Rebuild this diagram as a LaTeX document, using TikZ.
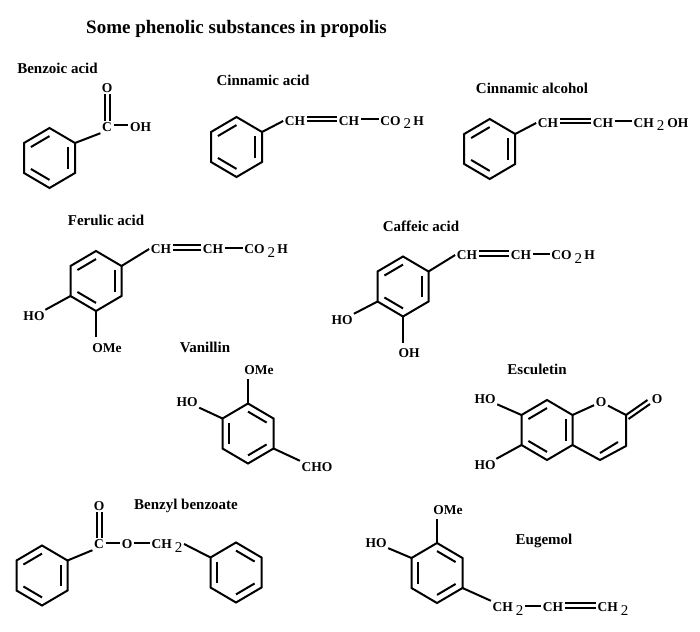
\documentclass[tikz,border=0pt]{standalone}
\usepackage{fontspec}
\setmainfont{Liberation Serif}
\usetikzlibrary{calc}

\tikzset{
  bond/.style={line width=2pt},
  atom/.style={font=\fontsize{13.5}{14}\selectfont\bfseries,inner sep=1.5pt,text height=9pt,text depth=0pt},
  caption/.style={font=\fontsize{15}{16}\selectfont\bfseries,inner sep=0pt,text height=11pt,text depth=1pt},
}

% the lowered 2 of CO2H and CH2
\newcommand{\subtwo}{\hspace{3pt}\raisebox{-3.5pt}{\fontsize{15}{15}\selectfont\mdseries 2}}

% ring: name, centre x, centre y, sides with an inner line
\newcommand{\benzring}[4]{
  \coordinate (#1) at (#2,#3);
  \foreach \i/\dx/\dy in {1/0/-30,2/25.5/-15,3/25.5/15,4/0/30,5/-25.5/15,6/-25.5/-15}
    \coordinate (#1v\i) at (#2+\dx,#3+\dy);
  \draw[bond] (#1v1) -- (#1v2) -- (#1v3) -- (#1v4) -- (#1v5) -- (#1v6) -- cycle;
  \foreach \a/\b in {#4}
    \draw[bond] ($(#1v\a)!0.27!(#1)$) -- ($(#1v\b)!0.27!(#1)$);
}
% bonds between two atoms in a row
\newcommand{\sglbond}[2]{\draw[bond] ([yshift=1.5pt]#1.east) -- ([yshift=1.5pt]#2.west);}
\newcommand{\dblbond}[2]{\draw[bond] ([yshift=4pt]#1.east) -- ([yshift=4pt]#2.west)
                                     ([yshift=-0.5pt]#1.east) -- ([yshift=-0.5pt]#2.west);}
% double bond, upright, from a lower atom to an upper one
\newcommand{\upbond}[2]{\draw[bond] ([xshift=-2.5pt]#1.north) -- ([xshift=-2.5pt]#2.south)
                                    ([xshift=2.5pt]#1.north) -- ([xshift=2.5pt]#2.south);}

\begin{document}
\begin{tikzpicture}[x=1pt,y=-1pt]
  \useasboundingbox (0,0) rectangle (700,631);

  % title and names
  \node[caption,font=\fontsize{19}{20}\selectfont\bfseries,text height=13pt,text depth=0pt] (title) at (236.5,27) {Some phenolic substances in propolis};
  \foreach \nm/\x/\y/\txt in {
      lbenzoic/57.5/69/Benzoic acid,
      lcinnamic/263/81/Cinnamic acid,
      lalcohol/532/89/Cinnamic alcohol,
      lferulic/106/220/Ferulic acid,
      lcaffeic/421/226/Caffeic acid,
      lvanillin/205/347/Vanillin,
      lesculetin/537/369/Esculetin,
      lbenzyl/186/504/Benzyl benzoate,
      leugenol/544/539/Eugemol}
    \node[caption] (\nm) at (\x,\y) {\txt};

  % benzoic acid
  \benzring{ba}{49.5}{158}{6/1,2/3,4/5}
  \node[atom] (baC) at (107,127) {C};
  \node[atom] (baO) at (107,88) {O};
  \node[atom] (baOH) at (140.5,127) {OH};
  \draw[bond] (bav2) -- (baC.south west);
  \sglbond{baC}{baOH}
  \upbond{baC}{baO}

  % cinnamic acid
  \benzring{ca}{236.5}{147}{6/1,2/3,4/5}
  \node[atom] (caCH) at (295,121) {CH};
  \node[atom] (caCHb) at (349,121) {CH};
  \node[atom] (caCO) at (402,121) {CO\subtwo\,H};
  \draw[bond] (cav2) -- (caCH.west);
  \dblbond{caCH}{caCHb}
  \sglbond{caCHb}{caCO}

  % cinnamic alcohol
  \benzring{al}{489.7}{149}{6/1,2/3,4/5}
  \node[atom] (alCH) at (548,123) {CH};
  \node[atom] (alCHb) at (603,123) {CH};
  \node[atom] (alOH) at (661,123) {CH\subtwo\hspace{3pt}OH};
  \draw[bond] (alv2) -- (alCH.west);
  \dblbond{alCH}{alCHb}
  \sglbond{alCHb}{alOH}

  % ferulic acid
  \benzring{fe}{96}{281}{6/1,2/3,4/5}
  \node[atom] (feHO) at (34,316) {HO};
  \node[atom] (feOMe) at (107,348) {OMe};
  \node[atom] (feCH) at (161,249) {CH};
  \node[atom] (feCHb) at (213,249) {CH};
  \node[atom] (feCO) at (266,249) {CO\subtwo\,H};
  \draw[bond] (fev5) -- (feHO);
  \draw[bond] (fev4) -- (96,337);
  \draw[bond] (fev2) -- (feCH.west);
  \dblbond{feCH}{feCHb}
  \sglbond{feCHb}{feCO}

  % caffeic acid
  \benzring{cf}{403}{286.5}{6/1,2/3,4/5}
  \node[atom] (cfHO) at (342,320) {HO};
  \node[atom] (cfOH) at (409,353) {OH};
  \node[atom] (cfCH) at (467,255) {CH};
  \node[atom] (cfCHb) at (521,255) {CH};
  \node[atom] (cfCO) at (573,255) {CO\subtwo\,H};
  \draw[bond] (cfv5) -- (cfHO);
  \draw[bond] (cfv4) -- (403,343);
  \draw[bond] (cfv2) -- (cfCH.west);
  \dblbond{cfCH}{cfCHb}
  \sglbond{cfCHb}{cfCO}

  % vanillin
  \benzring{va}{248}{433.5}{1/2,3/4,5/6}
  \node[atom] (vaHO) at (187,402) {HO};
  \node[atom] (vaOMe) at (259,370) {OMe};
  \node[atom] (vaCHO) at (317,467) {CHO};
  \draw[bond] (vav6) -- (vaHO);
  \draw[bond] (vav1) -- (248,379);
  \draw[bond] (vav3) -- (vaCHO.north west);

  % esculetin, ring with the O added on the right
  \benzring{es}{547}{430}{6/1,2/3,4/5}
  \node[atom] (esHOa) at (485,399) {HO};
  \node[atom] (esHOb) at (485,465) {HO};
  \node[atom] (esO) at (601,402) {O};
  \node[atom] (esOb) at (657,399) {O};
  \coordinate (esC) at (626,415);
  \coordinate (esCb) at (626,446);
  \coordinate (esCc) at (600,460);
  \draw[bond] (esv6) -- (esHOa);
  \draw[bond] (esv5) -- (esHOb);
  \draw[bond] (esv2) -- (esO);
  \draw[bond] (esO) -- (esC) -- (esCb) -- (esCc) -- (esv3);
  \draw[bond] (600,453) -- (618,442);
  \draw[bond] (esC) -- (647.5,400) (628.5,419) -- (650,404);

  % benzyl benzoate
  \benzring{bb}{42}{575.5}{6/1,2/3,4/5}
  \benzring{bc}{236}{572.5}{1/2,3/4,5/6}
  \node[atom] (bbC) at (99,544) {C};
  \node[atom] (bbO) at (99,506) {O};
  \node[atom] (bbOb) at (127,544) {O};
  \node[atom] (bbCH) at (167,544) {CH\subtwo};
  \draw[bond] (bbv2) -- (bbC.south west);
  \upbond{bbC}{bbO}
  \sglbond{bbC}{bbOb}
  \sglbond{bbOb}{bbCH}
  \draw[bond] (bcv6) -- (bbCH.east);

  % eugenol
  \benzring{eu}{437}{573}{1/2,3/4,5/6}
  \node[atom] (euHO) at (376,543) {HO};
  \node[atom] (euOMe) at (448,510) {OMe};
  \node[atom] (euCH) at (508,607) {CH\subtwo};
  \node[atom] (euCHb) at (553,607) {CH};
  \node[atom] (euCHc) at (613,607) {CH\subtwo};
  \draw[bond] (euv6) -- (euHO);
  \draw[bond] (euv1) -- (437,519);
  \draw[bond] (euv3) -- (euCH.north west);
  \sglbond{euCH}{euCHb}
  \dblbond{euCHb}{euCHc}
\end{tikzpicture}
\end{document}
